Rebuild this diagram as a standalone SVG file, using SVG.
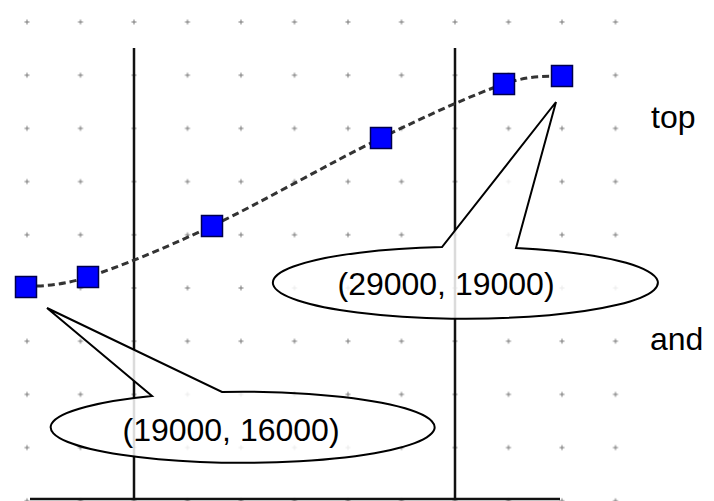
<svg xmlns="http://www.w3.org/2000/svg" width="714" height="501" viewBox="0 0 714 501">
  <style>
    .axis { stroke: #111; stroke-width: 2.5; fill: none; }
    .curve { stroke: #333; stroke-width: 3; stroke-dasharray: 7 4; fill: none; }
    .pt { fill: #0000ff; stroke: #00004d; stroke-width: 1.5; }
    .callout { fill: #ffffff; fill-opacity: 0.85; stroke: #000; stroke-width: 2; stroke-linejoin: miter; }
    .lbl { font-family: "Liberation Sans", Arial, sans-serif; font-size: 32px; fill: #000; }
  </style>
  <defs>
    <pattern id="grid" patternUnits="userSpaceOnUse" x="0.25" y="-4.6" width="53.5" height="53.2">
      <path d="M24.25,26.6 H29.25 M26.75,24.1 V29.1" stroke="#7a7a7a" stroke-width="1" fill="none"/>
    </pattern>
  </defs>
  <rect width="714" height="501" fill="#ffffff"/>
  <rect x="0" y="0" width="642" height="501" fill="url(#grid)"/>

  <g id="axes">
    <line class="axis" x1="134" y1="48" x2="134" y2="499"/>
    <line class="axis" x1="455" y1="48" x2="455" y2="499"/>
    <line class="axis" x1="30" y1="499" x2="560" y2="499"/>
  </g>

  <g id="connectors">
    <path class="curve" d="M26,287 C36.3,285.3 57,287.2 88,277 C119,266.8 163.2,249.2 212,226 C260.8,202.8 332.3,161.7 381,138 C429.7,114.3 473.8,94.3 504,84 C534.2,73.7 552.3,77.3 562,76"/>
  </g>

  <g id="p1"><rect class="pt" x="15.5" y="276.5" width="21" height="21"/></g>
  <g id="p2"><rect class="pt" x="77.5" y="266.5" width="21" height="21"/></g>
  <g id="p3"><rect class="pt" x="201.5" y="215.5" width="21" height="21"/></g>
  <g id="p4"><rect class="pt" x="370.5" y="127.5" width="21" height="21"/></g>
  <g id="p5"><rect class="pt" x="493.5" y="73.5" width="21" height="21"/></g>
  <g id="p6"><rect class="pt" x="551.5" y="65.5" width="21" height="21"/></g>

  <g id="callout1">
    <path class="callout" d="M222,392 A192,35.5 0 1 1 152,396 L47,308 Z"/>
    <text class="lbl" x="231" y="441" text-anchor="middle">(19000, 16000)</text>
  </g>

  <g id="callout2">
    <path class="callout" d="M516,248 A192.5,36 0 1 1 442,247 L556,102 Z"/>
    <text class="lbl" x="446" y="295" text-anchor="middle">(29000, 19000)</text>
  </g>

  <g id="label-top"><text class="lbl" x="651" y="128">top</text></g>
  <g id="label-and"><text class="lbl" x="650" y="350">and</text></g>
</svg>
